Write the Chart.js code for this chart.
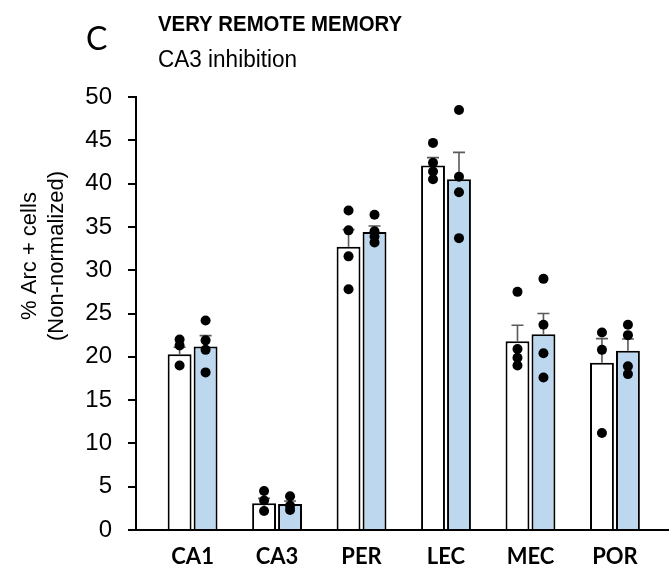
<!DOCTYPE html>
<html>
<head>
<meta charset="utf-8">
<script src="https://cdn.jsdelivr.net/npm/chart.js@4.4.1/dist/chart.umd.min.js"></script>
<style>
  html, body { margin: 0; padding: 0; background: #fff; }
  #wrap { width: 669px; height: 567px; }
</style>
</head>
<body>
<div id="wrap"><canvas id="arcChart" width="669" height="567"></canvas></div>
<script>
// regions along the x axis
const regions = ['CA1', 'CA3', 'PER', 'LEC', 'MEC', 'POR'];

// control group (white bars)
const ctrlMean = [20.3, 3.1, 32.7, 42.1, 21.8, 19.3];
const ctrlSem = [0.8, 0.55, 2.0, 0.9, 1.85, 2.8];
const ctrlPoints = [
    [22.0, 21.3, 19.0],
    [4.5, 3.4, 2.2],
    [36.9, 34.6, 31.6, 27.8],
    [44.7, 42.4, 41.4, 40.5],
    [27.5, 20.9, 19.9, 19.0],
    [22.8, 20.8, 11.2]
];

// CA3 inhibition group (blue bars)
const inhMean = [21.2, 3.0, 34.4, 40.5, 22.6, 20.7];
const inhSem = [1.25, 0.35, 0.7, 3.1, 2.4, 1.35];
const inhPoints = [
    [24.2, 21.9, 20.8, 18.2],
    [3.9, 2.8, 2.3],
    [36.4, 34.5, 33.9, 33.2],
    [48.5, 40.8, 39.0, 33.7],
    [29.0, 23.7, 20.4, 17.6],
    [23.7, 22.5, 18.9, 18.0]
];

const yTicks = [0, 5, 10, 15, 20, 25, 30, 35, 40, 45, 50];

const groups = [
    { mean: ctrlMean, sem: ctrlSem, points: ctrlPoints },
    { mean: inhMean, sem: inhSem, points: inhPoints }
];

// error bars (upper SEM only) and the individual animals on top of the bars
const overlay = {
    id: 'overlay',
    afterDatasetsDraw(chart) {
        const ctx = chart.ctx;
        const y = chart.scales.y;
        ctx.save();
        groups.forEach((g, d) => {
            chart.getDatasetMeta(d).data.forEach((bar, i) => {
                const top = y.getPixelForValue(g.mean[i]);
                const hi = y.getPixelForValue(g.mean[i] + g.sem[i]);
                ctx.strokeStyle = '#5a5a5a';
                ctx.lineWidth = 1.6;
                ctx.beginPath();
                ctx.moveTo(bar.x, top);
                ctx.lineTo(bar.x, hi);
                ctx.moveTo(bar.x - 6, hi);
                ctx.lineTo(bar.x + 6, hi);
                ctx.stroke();
            });
        });
        groups.forEach((g, d) => {
            chart.getDatasetMeta(d).data.forEach((bar, i) => {
                g.points[i].forEach(v => {
                    ctx.fillStyle = '#000';
                    ctx.beginPath();
                    ctx.arc(bar.x, y.getPixelForValue(v), 5, 0, Math.PI * 2);
                    ctx.fill();
                });
            });
        });
        ctx.restore();
    }
};

// panel letter, heading and rotated y title
const panelText = {
    id: 'panelText',
    afterDraw(chart) {
        const ctx = chart.ctx;
        ctx.save();
        ctx.fillStyle = '#000';
        ctx.textBaseline = 'alphabetic';
        ctx.textAlign = 'left';
        ctx.font = '32px Lato';
        ctx.fillText('C', 86, 50);
        ctx.font = 'bold 22px "Liberation Sans"';
        ctx.fillText('VERY REMOTE MEMORY', 158, 31, 244);
        ctx.font = '23px "Liberation Sans"';
        ctx.fillText('CA3 inhibition', 158, 67, 139);

        ctx.translate(0, 256);
        ctx.rotate(-Math.PI / 2);
        ctx.textAlign = 'center';
        ctx.textBaseline = 'middle';
        ctx.font = '22px "Liberation Sans"';
        ctx.fillText('% Arc + cells', 0, 30);
        ctx.fillText('(Non-normalized)', 0, 57);
        ctx.restore();
    }
};

new Chart(document.getElementById('arcChart'), {
    type: 'bar',
    data: {
        datasets: [
            {
                label: 'Control',
                data: regions.map((r, i) => ({ x: i, y: ctrlMean[i] })),
                backgroundColor: '#ffffff',
                borderColor: '#000000',
                borderWidth: 2,
                borderSkipped: 'bottom'
            },
            {
                label: 'CA3 inhibition',
                data: regions.map((r, i) => ({ x: i, y: inhMean[i] })),
                backgroundColor: '#bdd7ee',
                borderColor: '#000000',
                borderWidth: 2,
                borderSkipped: 'bottom'
            }
        ]
    },
    options: {
        responsive: false,
        animation: false,
        categoryPercentage: 0.615,
        barPercentage: 0.92,
        layout: { padding: { top: 97, right: 0, bottom: 0, left: 0 } },
        plugins: {
            legend: { display: false },
            tooltip: { enabled: false }
        },
        scales: {
            x: {
                type: 'linear',
                offset: false,
                min: -0.67,
                max: 5.64,
                afterBuildTicks: s => { s.ticks = regions.map((r, i) => ({ value: i })); },
                afterFit: s => { s.height = 37; },
                grid: { display: false },
                border: { display: true, color: '#000', width: 2 },
                ticks: {
                    callback: v => regions[v],
                    color: '#000',
                    font: { family: 'Lato', weight: 'bold', size: 22 },
                    padding: 6,
                    maxRotation: 0,
                    autoSkip: false
                }
            },
            y: {
                min: 0,
                max: 50,
                afterBuildTicks: s => { s.ticks = yTicks.map(v => ({ value: v })); },
                afterFit: s => { s.width = 136; },
                grid: {
                    drawOnChartArea: false,
                    drawTicks: true,
                    tickLength: 8,
                    color: '#000',
                    lineWidth: 2
                },
                border: { display: true, color: '#000', width: 2 },
                ticks: {
                    color: '#000',
                    font: { family: 'Liberation Sans', size: 24 },
                    padding: 16
                }
            }
        }
    },
    plugins: [overlay, panelText]
});
</script>
</body>
</html>
